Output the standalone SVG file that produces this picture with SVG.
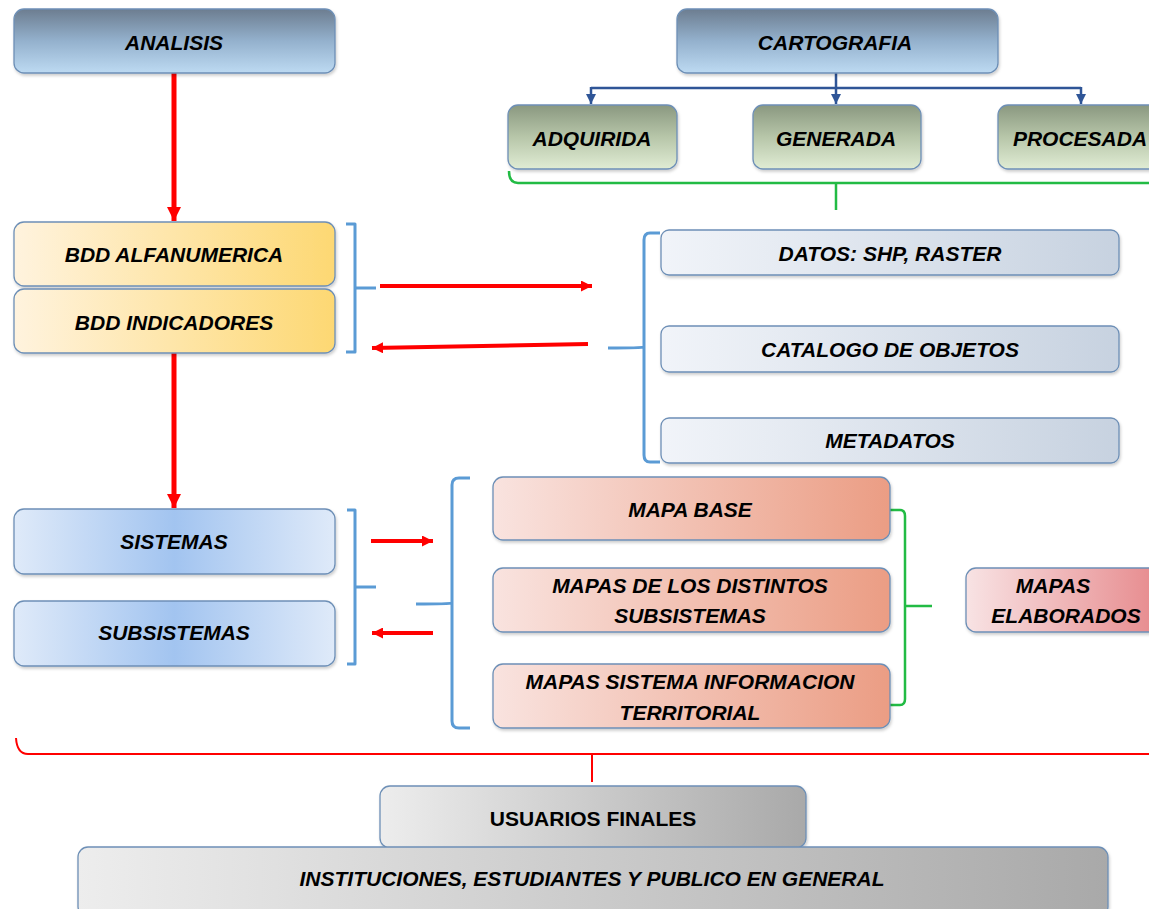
<svg xmlns="http://www.w3.org/2000/svg" width="1149" height="909" viewBox="0 0 1149 909">
<defs>
<linearGradient id="gTop" x1="0" y1="0" x2="0" y2="1"><stop offset="0" stop-color="#6c7d90"/><stop offset="0.5" stop-color="#94b1cd"/><stop offset="1" stop-color="#bddaf2"/></linearGradient>
<linearGradient id="gGreen" x1="0" y1="0" x2="0" y2="1"><stop offset="0" stop-color="#8a9880"/><stop offset="0.5" stop-color="#b7c6a9"/><stop offset="1" stop-color="#e0ecd4"/></linearGradient>
<linearGradient id="gYellow" x1="0" y1="0" x2="1" y2="0"><stop offset="0" stop-color="#fff3de"/><stop offset="1" stop-color="#fdd873"/></linearGradient>
<linearGradient id="gData" x1="0" y1="0" x2="1" y2="0"><stop offset="0" stop-color="#f1f4f9"/><stop offset="1" stop-color="#c7d2e0"/></linearGradient>
<linearGradient id="gSys" x1="0" y1="0" x2="1" y2="0"><stop offset="0" stop-color="#dfeaf9"/><stop offset="0.5" stop-color="#a2c4f0"/><stop offset="1" stop-color="#dfeaf9"/></linearGradient>
<linearGradient id="gSalmon" x1="0" y1="0" x2="1" y2="0"><stop offset="0" stop-color="#f9e3df"/><stop offset="1" stop-color="#eb9d84"/></linearGradient>
<linearGradient id="gPink" x1="0" y1="0" x2="1" y2="0"><stop offset="0" stop-color="#f8e3e4"/><stop offset="1" stop-color="#e6878a"/></linearGradient>
<linearGradient id="gGrey" x1="0" y1="0" x2="1" y2="0"><stop offset="0" stop-color="#ededed"/><stop offset="1" stop-color="#a9a9a9"/></linearGradient>
<marker id="aRed" viewBox="0 0 10 10" refX="10" refY="5" markerWidth="14" markerHeight="14" markerUnits="userSpaceOnUse" orient="auto"><path d="M0,0 L10,5 L0,10 Z" fill="#ff0000"/></marker>
<marker id="aRedS" viewBox="0 0 10 10" refX="10" refY="5" markerWidth="11" markerHeight="11" markerUnits="userSpaceOnUse" orient="auto"><path d="M0,0 L10,5 L0,10 Z" fill="#ff0000"/></marker>
<marker id="aBlue" viewBox="0 0 10 10" refX="10" refY="5" markerWidth="10" markerHeight="10" markerUnits="userSpaceOnUse" orient="auto"><path d="M0,0 L10,5 L0,10 Z" fill="#2f5597"/></marker>
<filter id="sh" x="-5%" y="-10%" width="110%" height="130%"><feDropShadow dx="1" dy="2" stdDeviation="1.5" flood-color="#000" flood-opacity="0.2"/></filter>
</defs>
<style>
.box{stroke:#6d8fb6;stroke-width:1.3;filter:url(#sh)}
.t{font-family:"Liberation Sans",Arial,sans-serif;font-weight:bold;font-style:italic;font-size:21px;fill:#000;text-anchor:middle}
.n{font-style:normal}
.red{stroke:#ff0000;fill:none}
.bl{stroke:#5b9bd5;stroke-width:3;fill:none;stroke-linejoin:round}
.gr{stroke:#22bb44;stroke-width:2.5;fill:none}
</style>

<g id="connectors">
<line class="red" x1="174" y1="73" x2="174" y2="221" stroke-width="5" marker-end="url(#aRed)"/>
<line class="red" x1="174" y1="353" x2="174" y2="508" stroke-width="5" marker-end="url(#aRed)"/>
<path d="M836,73 V88 M591,88 H1081" stroke="#2f5597" stroke-width="2.5" fill="none"/>
<line x1="591" y1="87" x2="591" y2="104" stroke="#2f5597" stroke-width="2.5" marker-end="url(#aBlue)"/>
<line x1="836" y1="87" x2="836" y2="104" stroke="#2f5597" stroke-width="2.5" marker-end="url(#aBlue)"/>
<line x1="1081" y1="87" x2="1081" y2="104" stroke="#2f5597" stroke-width="2.5" marker-end="url(#aBlue)"/>
<path class="gr" d="M509,171 Q509,183 518,183 H1149 M836,183 V210"/>
<path class="bl" d="M346,224 H355 V352 H346 M355,288 H376"/>
<line class="red" x1="380" y1="286" x2="592" y2="286" stroke-width="4" marker-end="url(#aRedS)"/>
<line class="red" x1="588" y1="344" x2="372" y2="348" stroke-width="4" marker-end="url(#aRedS)"/>
<path class="bl" d="M660,233 H650 Q644,233 644,240 V455 Q644,462 650,462 H660 M644,347 Q642,348 608,348"/>
<path class="bl" d="M347,510 H355 V664 H347 M355,587 H376"/>
<line class="red" x1="371" y1="541" x2="433" y2="541" stroke-width="4" marker-end="url(#aRedS)"/>
<line class="red" x1="433" y1="633" x2="372" y2="633" stroke-width="4" marker-end="url(#aRedS)"/>
<path class="bl" d="M470,478 H459 Q452,478 452,485 V721 Q452,728 459,728 H470 M452,603 Q450,604 416,604"/>
<path class="gr" d="M890,510 H900 Q905,510 905,516 V699 Q905,705 900,705 H890 M905,606 H932"/>
<path class="red" stroke-width="2" d="M16,738 Q17,754 28,754 H1149 M592,754 V782"/>
</g>

<g id="analisis"><rect class="box" x="14" y="9" width="321" height="64" rx="10" fill="url(#gTop)"/><text class="t" x="174" y="50">ANALISIS</text></g>
<g id="cartografia"><rect class="box" x="677" y="9" width="321" height="64" rx="10" fill="url(#gTop)"/><text class="t" x="835" y="50">CARTOGRAFIA</text></g>
<g id="adquirida"><rect class="box" x="508" y="105" width="169" height="64" rx="10" fill="url(#gGreen)"/><text class="t" x="592" y="146">ADQUIRIDA</text></g>
<g id="generada"><rect class="box" x="753" y="105" width="168" height="64" rx="10" fill="url(#gGreen)"/><text class="t" x="836" y="146">GENERADA</text></g>
<g id="procesada"><rect class="box" x="998" y="105" width="169" height="64" rx="10" fill="url(#gGreen)"/><text class="t" x="1080" y="146">PROCESADA</text></g>
<g id="bdd-alfanumerica"><rect class="box" x="14" y="222" width="321" height="64" rx="10" fill="url(#gYellow)"/><text class="t" x="174" y="262">BDD ALFANUMERICA</text></g>
<g id="bdd-indicadores"><rect class="box" x="14" y="289" width="321" height="64" rx="10" fill="url(#gYellow)"/><text class="t" x="174" y="330">BDD INDICADORES</text></g>
<g id="datos"><rect class="box" x="661" y="230" width="458" height="45" rx="8" fill="url(#gData)"/><text class="t" x="890" y="261">DATOS: SHP, RASTER</text></g>
<g id="catalogo"><rect class="box" x="661" y="326" width="458" height="46" rx="8" fill="url(#gData)"/><text class="t" x="890" y="357">CATALOGO DE OBJETOS</text></g>
<g id="metadatos"><rect class="box" x="661" y="418" width="458" height="45" rx="8" fill="url(#gData)"/><text class="t" x="890" y="448">METADATOS</text></g>
<g id="sistemas"><rect class="box" x="14" y="509" width="321" height="65" rx="10" fill="url(#gSys)"/><text class="t" x="174" y="549">SISTEMAS</text></g>
<g id="subsistemas"><rect class="box" x="14" y="601" width="321" height="65" rx="10" fill="url(#gSys)"/><text class="t" x="174" y="640">SUBSISTEMAS</text></g>
<g id="mapa-base"><rect class="box" x="493" y="477" width="397" height="63" rx="10" fill="url(#gSalmon)"/><text class="t" x="690" y="517">MAPA BASE</text></g>
<g id="mapas-subsistemas"><rect class="box" x="493" y="568" width="397" height="64" rx="10" fill="url(#gSalmon)"/><text class="t" x="690" y="593">MAPAS DE LOS DISTINTOS</text><text class="t" x="690" y="623">SUBSISTEMAS</text></g>
<g id="mapas-sit"><rect class="box" x="493" y="664" width="397" height="64" rx="10" fill="url(#gSalmon)"/><text class="t" x="690" y="689">MAPAS SISTEMA INFORMACION</text><text class="t" x="690" y="720">TERRITORIAL</text></g>
<g id="mapas-elaborados"><rect class="box" x="966" y="568" width="200" height="64" rx="10" fill="url(#gPink)"/><text class="t" x="1053" y="593">MAPAS</text><text class="t" x="1066" y="623">ELABORADOS</text></g>
<g id="usuarios"><rect class="box" x="380" y="786" width="426" height="62" rx="10" fill="url(#gGrey)"/><text class="t n" x="593" y="826">USUARIOS FINALES</text></g>
<g id="instituciones"><rect class="box" x="78" y="847" width="1030" height="70" rx="10" fill="url(#gGrey)"/><text class="t" x="592" y="886">INSTITUCIONES, ESTUDIANTES Y PUBLICO EN GENERAL</text></g>
</svg>
